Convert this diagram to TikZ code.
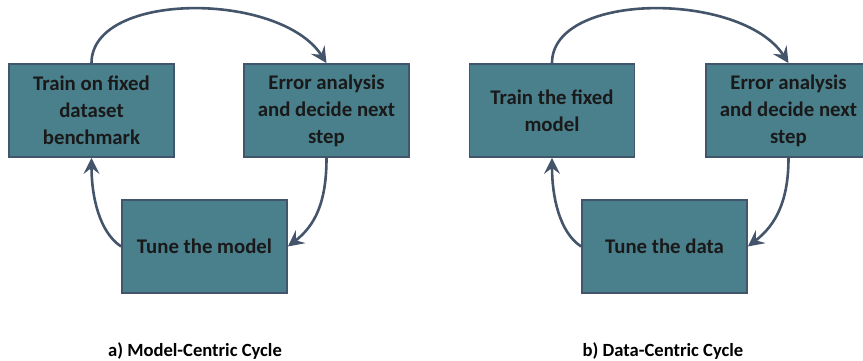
\documentclass[tikz,border=0pt]{standalone}
\usepackage{fontspec}
\setmainfont{Carlito}
\usetikzlibrary{arrows.meta}
\definecolor{boxfill}{HTML}{4A7F8C}
\definecolor{boxline}{HTML}{41566B}
\definecolor{flow}{HTML}{44546A}
\tikzset{
  stage/.style={draw=boxline, line width=1.8pt, fill=boxfill,
    minimum width=165pt, minimum height=93pt, inner sep=2pt,
    align=center, text=black!90,
    font=\fontsize{20.8}{27}\selectfont\bfseries},
  flowarrow/.style={draw=flow, line width=2.6pt,
    -{Stealth[length=16pt, width=16pt, inset=6pt]}},
  caption/.style={font=\fontsize{18.6}{20}\selectfont\bfseries, text=black}
}
\begin{document}
\begin{tikzpicture}[x=1pt, y=-1pt]
  \useasboundingbox (0,0) rectangle (863,361);
  \clip (0,0) rectangle (863,361);

  % model-centric loop
  \node[stage] (mA) at (91.5,110.5) {Train on fixed\\dataset\\benchmark};
  \node[stage] (mB) at (326.5,110.5) {Error analysis\\and decide next\\step};
  \node[stage] (mC) at (204.5,246.5) {Tune the model};
  \draw[flowarrow] (mA.north) .. controls +(0,-72) and +(-46.5,-72) .. (mB.north);
  \draw[flowarrow] (mB.south) .. controls +(0,43) and +(28,-21.5) .. (mC.east);
  \draw[flowarrow] (mC.west) .. controls +(-22,-14.5) and +(0,38) .. (mA.south);
  \node[caption] (capA) at (195,351) {a) Model-Centric Cycle};

  % data-centric loop
  \node[stage] (dA) at (552,110.5) {Train the fixed\\model};
  \node[stage] (dB) at (788.5,110.5) {Error analysis\\and decide next\\step};
  \node[stage] (dC) at (664.5,246.5) {Tune the data};
  \draw[flowarrow] (dA.north) .. controls +(0,-72) and +(-46.5,-72) .. (dB.north);
  \draw[flowarrow] (dB.south) .. controls +(0,43) and +(28,-21.5) .. (dC.east);
  \draw[flowarrow] (dC.west) .. controls +(-22,-14.5) and +(0,38) .. (dA.south);
  \node[caption] (capB) at (663,351) {b) Data-Centric Cycle};
\end{tikzpicture}
\end{document}
